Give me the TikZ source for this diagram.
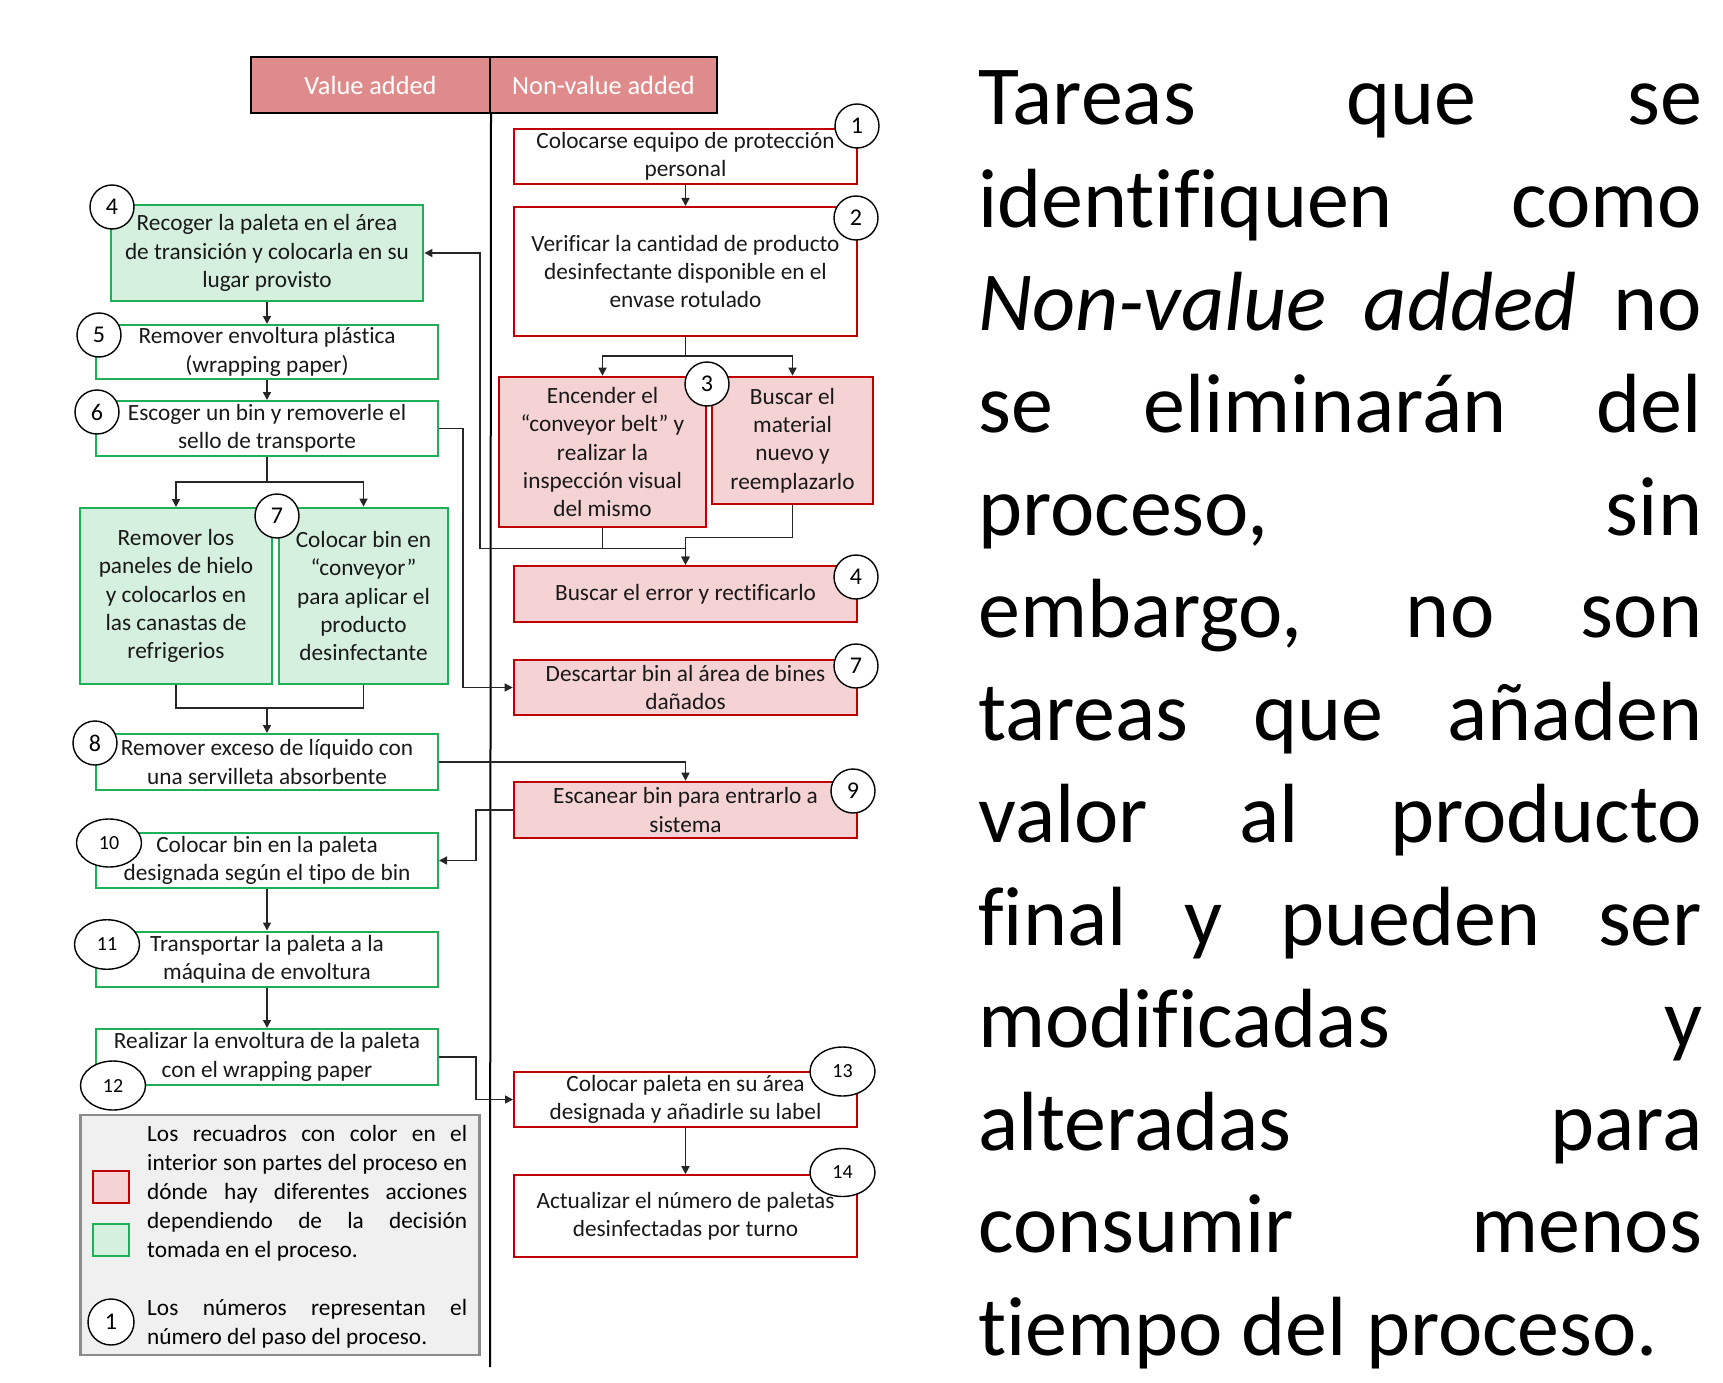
\documentclass[tikz,border=0pt]{standalone}
\usepackage{fontspec}
\setmainfont{Carlito}[Ligatures=NoCommon]
\usetikzlibrary{arrows.meta,shapes.geometric}
\definecolor{hdrc}{HTML}{E08B8B}
\definecolor{rline}{HTML}{C00000}
\definecolor{rfill}{HTML}{F5D2D3}
\definecolor{gline}{HTML}{1DB056}
\definecolor{gfill}{HTML}{D6F0E0}
\definecolor{lgfill}{HTML}{F0F0F0}
\definecolor{lgline}{HTML}{8C8C8C}
\tikzset{
 hdr/.style={draw=black, line width=2pt, fill=hdrc, text=white, font=\fontsize{26.3}{30}\selectfont, inner sep=0pt, minimum height=56pt},
 bt/.style={font=\fontsize{23.3}{28.3}\selectfont, align=center, inner sep=0pt, text=black!90},
 gbox/.style={bt, draw=gline, line width=2pt, fill=white},
 gfilled/.style={bt, draw=gline, line width=2pt, fill=gfill},
 rbox/.style={bt, draw=rline, line width=2pt, fill=white},
 rfilled/.style={bt, draw=rline, line width=2.6pt, fill=rfill},
 num/.style={circle, draw=black, line width=1.4pt, fill=white, minimum size=44pt, inner sep=0pt, font=\fontsize{24}{24}\selectfont},
 nume/.style={ellipse, draw=black, line width=1.4pt, fill=white, minimum width=65pt, minimum height=48pt, inner sep=0pt, font=\fontsize{20}{20}\selectfont},
 ln/.style={line width=1.6pt, draw=black!85},
 arr/.style={ln, -{Triangle[length=8pt,width=8pt]}},
 lg/.style={anchor=base west, inner sep=0pt, font=\fontsize{23.3}{28}\selectfont},
 rt/.style={anchor=base west, inner sep=0pt, font=\fontsize{84}{102}\selectfont},
}
\begin{document}
\begin{tikzpicture}[x=1pt,y=-1pt]
\useasboundingbox (0,0) rectangle (1723,1383);
\fill[white] (0,0) rectangle (1723,1383);

% headers
\node[hdr, minimum width=239pt] (hV) at (370.5,85) {Value added};
\node[hdr, minimum width=227pt] (hN) at (603.5,85) {Non-value added};
\coordinate (divbot) at (490,1367);
\draw[line width=2pt] (hV.south east) -- (divbot);

% legend
\node[draw=lgline, line width=2.5pt, fill=lgfill, minimum width=398.6pt, minimum height=240pt, inner sep=0pt] (leg) at (280,1235) {};
\node[draw=rline, line width=2pt, fill=rfill, minimum width=36pt, minimum height=32.7pt, inner sep=0pt] (sqr) at (111,1187) {};
\node[draw=gline, line width=2pt, fill=gfill, minimum width=36pt, minimum height=32pt, inner sep=0pt] (sqg) at (111,1240) {};
\node[num, minimum size=46pt] (lc1) at (111,1322) {1};
\node[lg] (l1) at (147,1141) {\makebox[320pt][s]{Los recuadros con color en el}};
\node[lg] (l2) at (147,1170) {\makebox[320pt][s]{interior son partes del proceso en}};
\node[lg] (l3) at (147,1199) {\makebox[320pt][s]{dónde hay diferentes acciones}};
\node[lg] (l4) at (147,1228) {\makebox[320pt][s]{dependiendo de la decisión}};
\node[lg] (l5) at (147,1257) {tomada en el proceso.};
\node[lg] (l6) at (147,1315) {\makebox[320pt][s]{Los números representan el}};
\node[lg] (l7) at (147,1344) {número del paso del proceso.};

% left column (value added)
\node[gfilled, line width=2.8pt, minimum width=312pt, minimum height=96pt] (G4) at (267,253) {Recoger la paleta en el área\\de transición y colocarla en su\\lugar provisto};
\node[gbox, minimum width=342pt, minimum height=54pt] (G5) at (267,352) {Remover envoltura plástica\\(wrapping paper)};
\node[gbox, minimum width=342pt, minimum height=55pt] (G6) at (267,428.5) {Escoger un bin y removerle el\\sello de transporte};
\node[gfilled, minimum width=192pt, minimum height=176pt] (G7a) at (176,596) {Remover los\\paneles de hielo\\y colocarlos en\\las canastas de\\refrigerios};
\node[gfilled, line width=2.8pt, minimum width=169pt, minimum height=176pt] (G7b) at (363.5,596) {Colocar bin en\\“conveyor”\\para aplicar el\\producto\\desinfectante};
\node[gbox, minimum width=342pt, minimum height=56pt] (G8) at (267,762) {Remover exceso de líquido con\\una servilleta absorbente};
\node[gbox, minimum width=342pt, minimum height=55pt] (G10) at (267,860.5) {Colocar bin en la paleta\\designada según el tipo de bin};
\node[gbox, minimum width=342pt, minimum height=55pt] (G11) at (267,959) {Transportar la paleta a la\\máquina de envoltura};
\node[gbox, minimum width=342pt, minimum height=56pt] (G12) at (267,1057) {Realizar la envoltura de la paleta\\con el wrapping paper};

% right column (non-value added)
\node[rbox, minimum width=343pt, minimum height=55pt] (R1) at (685.5,156.5) {Colocarse equipo de protección\\personal};
\node[rbox, minimum width=343pt, minimum height=129pt] (R2) at (685.5,271.5) {Verificar la cantidad de producto\\desinfectante disponible en el\\envase rotulado};
\node[rfilled, minimum width=207pt, minimum height=150pt] (R3a) at (602.5,452) {Encender el\\“conveyor belt” y\\realizar la\\inspección visual\\del mismo};
\node[rfilled, minimum width=161pt, minimum height=127pt] (R3b) at (792.5,440.5) {Buscar el\\material\\nuevo y\\reemplazarlo};
\node[rfilled, minimum width=343pt, minimum height=56pt] (R4) at (685.5,594) {Buscar el error y rectificarlo};
\node[rfilled, minimum width=343pt, minimum height=55pt] (R7) at (685.5,687.5) {Descartar bin al área de bines\\dañados};
\node[rfilled, minimum width=343pt, minimum height=56pt] (R9) at (685.5,810) {Escanear bin para entrarlo a\\sistema};
\node[rbox, minimum width=343pt, minimum height=54.4pt] (R13) at (685.5,1099.5) {Colocar paleta en su área\\designada y añadirle su label};
\node[rbox, minimum width=343pt, minimum height=81.7pt] (R14) at (685.5,1216) {Actualizar el número de paletas\\desinfectadas por turno};

% connectors
\draw[arr] (R1.south) -- (R2.north);
\draw[ln] (R2.south) -- ++(0,19) coordinate (s2);
\draw[arr] (s2) -| (R3a.north);
\draw[arr] (s2) -| (R3b.north);
\draw[ln] (R3a.south) -- ++(0,20) coordinate (m3);
\draw[arr] (m3) -| (R4.north);
\draw[arr] (R3b.south) -- ++(0,32) -| (R4.north);
\coordinate (fb) at (480,0);
\draw[arr] (m3) -| (fb |- G4.east) -- (G4.east);
\draw[arr] (G4.south) -- (G5.north);
\draw[arr] (G5.south) -- (G6.north);
\draw[ln] (G6.south) -- ++(0,25) coordinate (s6);
\draw[arr] (s6) -| (G7a.north);
\draw[arr] (s6) -| (G7b.north);
\coordinate (j7) at (267,708);
\draw[ln] (G7a.south) |- (j7) -| (G7b.south);
\draw[arr] (j7) -- (G8.north);
\draw[arr] (G6.east) -- ++(24,0) |- (R7.west);
\draw[arr] (G8.east) -| (R9.north);
\draw[arr] (R9.west) -- ++(-37,0) |- (G10.east);
\draw[arr] (G10.south) -- (G11.north);
\draw[arr] (G11.south) -- (G12.north);
\draw[arr] (G12.east) -- ++(37,0) |- (R13.west);
\draw[arr] (R13.south) -- (R14.north);

% step numbers
\node[num] (c1) at (857,126) {1};
\node[num] (c2) at (856,218) {2};
\node[num] (c3) at (707,384) {3};
\node[num] (c4r) at (856,577) {4};
\node[num] (c7r) at (856,666) {7};
\node[num] (c9) at (853,791) {9};
\node[num] (c4) at (112,207) {4};
\node[num] (c5) at (99,335) {5};
\node[num] (c6) at (97,412) {6};
\node[num] (c7) at (277,516) {7};
\node[num] (c8) at (95,743) {8};
\node[nume] (c10) at (109,843) {10};
\node[nume, minimum height=49.5pt] (c11) at (107,944.5) {11};
\node[nume, minimum height=49pt] (c12) at (113,1085.5) {12};
\node[nume, minimum height=49pt] (c13) at (842.5,1071.5) {13};
\node[nume] (c14) at (842.5,1172.5) {14};

% right-hand paragraph
\node[rt] (t1) at (978,125) {\makebox[724pt][s]{Tareas que se}};
\node[rt] (t2) at (978,227.5) {\makebox[724pt][s]{identifiquen como}};
\node[rt] (t3) at (978,330) {\makebox[724pt][s]{\textit{Non-value added} no}};
\node[rt] (t4) at (978,432.5) {\makebox[724pt][s]{se eliminarán del}};
\node[rt] (t5) at (978,535) {\makebox[724pt][s]{proceso, sin}};
\node[rt] (t6) at (978,637.5) {\makebox[724pt][s]{embargo, no son}};
\node[rt] (t7) at (978,740) {\makebox[724pt][s]{tareas que añaden}};
\node[rt] (t8) at (978,842.5) {\makebox[724pt][s]{valor al producto}};
\node[rt] (t9) at (978,945) {\makebox[724pt][s]{final y pueden ser}};
\node[rt] (t10) at (978,1047.5) {\makebox[724pt][s]{modificadas y}};
\node[rt] (t11) at (978,1150) {\makebox[724pt][s]{alteradas para}};
\node[rt] (t12) at (978,1252.5) {\makebox[724pt][s]{consumir menos}};
\node[rt] (t13) at (978,1355) {tiempo del proceso.};
\end{tikzpicture}
\end{document}
